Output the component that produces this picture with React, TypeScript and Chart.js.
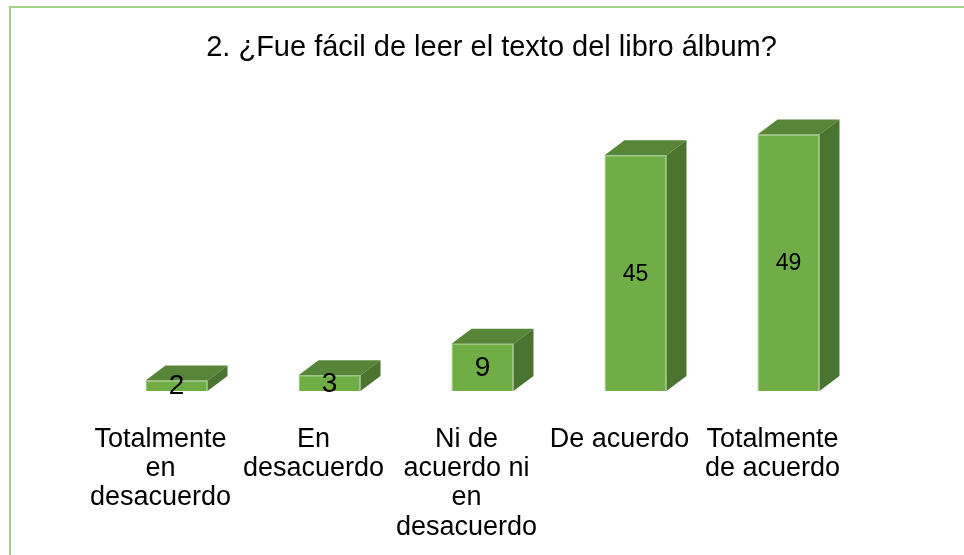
import React, { useEffect, useRef } from 'react';
import { Chart, registerables } from 'chart.js';

Chart.register(...registerables);

const TITLE = '2. ¿Fue fácil de leer el texto del libro álbum?';
const categories: string[][] = [
  ['Totalmente', 'en', 'desacuerdo'],
  ['En', 'desacuerdo'],
  ['Ni de', 'acuerdo ni', 'en', 'desacuerdo'],
  ['De acuerdo'],
  ['Totalmente', 'de acuerdo'],
];
const values: number[] = [2, 3, 9, 45, 49];
const yMin = 0;
const yMax = 55;

const FRONT = '#70AD47';
const TOP = '#578638';
const SIDE = '#4A7430';
const EDGE = '#8BC46A';
const BORDER = '#A9D18E';
const FONT = '"Liberation Sans", Arial, sans-serif';
const DEPTH_X = 20;
const DEPTH_Y = 15;

const box3d = {
  id: 'box3d',
  beforeDraw(chart: any) {
    const ctx = chart.ctx;
    ctx.save();
    ctx.strokeStyle = BORDER;
    ctx.lineWidth = 2;
    ctx.beginPath();
    ctx.moveTo(10, chart.height);
    ctx.lineTo(10, 7);
    ctx.lineTo(chart.width, 7);
    ctx.stroke();
    ctx.fillStyle = '#000';
    ctx.font = `29px ${FONT}`;
    ctx.textAlign = 'center';
    ctx.textBaseline = 'middle';
    ctx.fillText(TITLE, chart.width / 2 + 9.5, 48);
    ctx.restore();
  },
  afterDatasetsDraw(chart: any) {
    const ctx = chart.ctx;
    const meta = chart.getDatasetMeta(0);
    ctx.save();
    meta.data.forEach((bar: any) => {
      const { x, y, base, width } = bar.getProps(['x', 'y', 'base', 'width'], true);
      const l = x - width / 2;
      const r = x + width / 2;
      ctx.fillStyle = TOP;
      ctx.beginPath();
      ctx.moveTo(l, y);
      ctx.lineTo(l + DEPTH_X, y - DEPTH_Y);
      ctx.lineTo(r + DEPTH_X, y - DEPTH_Y);
      ctx.lineTo(r, y);
      ctx.closePath();
      ctx.fill();
      ctx.fillStyle = SIDE;
      ctx.beginPath();
      ctx.moveTo(r, y);
      ctx.lineTo(r + DEPTH_X, y - DEPTH_Y);
      ctx.lineTo(r + DEPTH_X, base - DEPTH_Y);
      ctx.lineTo(r, base);
      ctx.closePath();
      ctx.fill();
    });
    ctx.restore();
  },
  afterDraw(chart: any) {
    const ctx = chart.ctx;
    const meta = chart.getDatasetMeta(0);
    ctx.save();
    ctx.fillStyle = '#000';
    ctx.textAlign = 'center';
    ctx.textBaseline = 'middle';
    meta.data.forEach((bar: any, i: number) => {
      const { x, y, base } = bar.getProps(['x', 'y', 'base'], true);
      const v = values[i];
      ctx.font = `${v < 10 ? 28 : 23}px ${FONT}`;
      ctx.fillText(String(v), x, (y + base) / 2 + 1);
    });
    ctx.restore();
  },
};

export default function App() {
  const ref = useRef<HTMLCanvasElement | null>(null);
  useEffect(() => {
    if (!ref.current) return;
    const chart = new Chart(ref.current, {
      type: 'bar',
      data: {
        labels: categories,
        datasets: [
          {
            data: values,
            backgroundColor: FRONT,
            borderColor: EDGE,
            borderWidth: 1,
            categoryPercentage: 1,
            barPercentage: 0.405,
          },
        ],
      },
      options: {
        animation: false,
        responsive: false,
        devicePixelRatio: 1,
        layout: { padding: { top: 103, left: 100, right: 99, bottom: 16 } },
        plugins: { legend: { display: false }, title: { display: false }, tooltip: { enabled: false } },
        scales: {
          x: {
            grid: { display: false, drawTicks: false },
            border: { display: false },
            afterFit: (scale: any) => {
              scale.height = 148;
            },
            ticks: {
              autoSkip: false,
              maxRotation: 0,
              minRotation: 0,
              padding: 34,
              labelOffset: -16,
              color: '#000',
              font: { family: FONT, size: 27, lineHeight: 1.08 },
            },
          },
          y: { display: false, min: yMin, max: yMax },
        },
      },
      plugins: [box3d],
    });
    return () => chart.destroy();
  }, []);
  return (
    <div style={{ position: 'fixed', left: 0, top: 0, width: 964, height: 555, background: '#fff' }}>
      <canvas ref={ref} width={964} height={555} style={{ display: 'block' }} />
    </div>
  );
}
